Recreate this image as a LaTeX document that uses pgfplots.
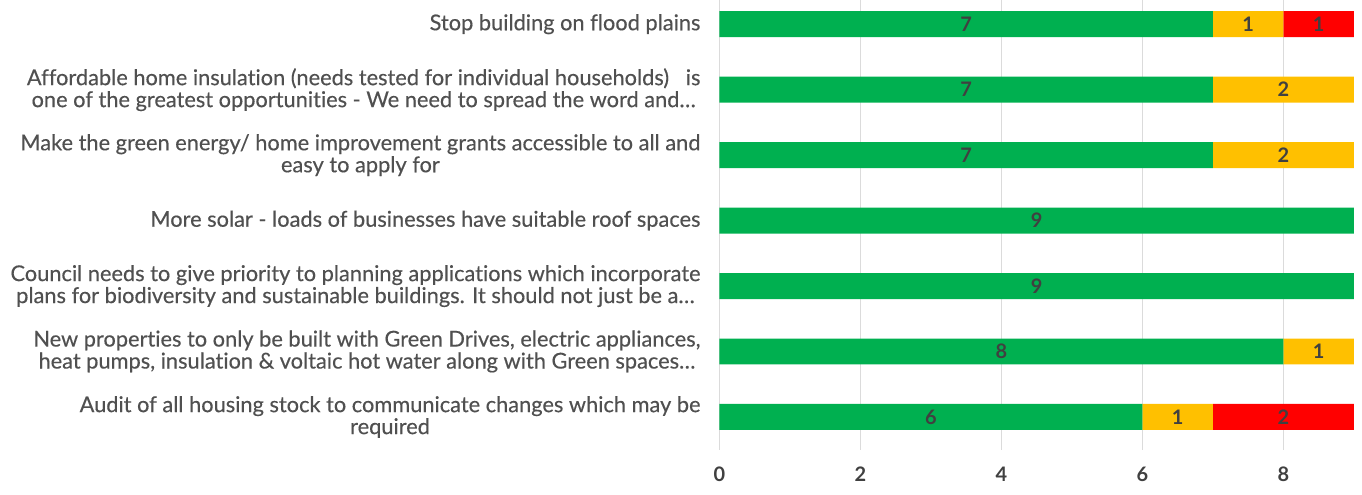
\documentclass[border=0pt]{standalone}
\usepackage{fontspec}
\setmainfont{Lato}[Ligatures=NoCommon]
\newfontfamily\labelfont{Lato}[Ligatures=NoCommon, FakeBold=0.35]
\usepackage{pgfplots}
\pgfplotsset{compat=1.18}
\definecolor{cgreen}{RGB}{0,176,80}
\definecolor{camber}{RGB}{255,192,0}
\definecolor{cred}{RGB}{255,0,0}
\definecolor{ctext}{RGB}{80,80,80}
\definecolor{cnum}{RGB}{64,64,64}
\begin{document}
\begin{tikzpicture}
\useasboundingbox (-360pt,-22.5pt) rectangle (321.5pt,225pt);
\begin{axis}[
  at={(0,0)}, anchor=south west,
  scale only axis, width=317.5pt, height=225pt,
  xbar stacked, bar width=13pt,
  xmin=0, xmax=9, ymin=-0.5, ymax=6.37,
  axis line style={draw=none},
  tick style={draw=none},
  xtick={0,2,4,6,8},
  ytick={0,...,6},
  yticklabels={
    {Audit of all housing stock to communicate changes which may be\\required},
    {New properties to only be built with Green Drives, electric appliances,\\heat pumps, insulation \& voltaic hot water along with Green spaces\ldots},
    {Council needs to give priority to planning applications which incorporate\\plans for biodiversity and sustainable buildings. It should not just be a\ldots},
    {More solar - loads of businesses have suitable roof spaces},
    {Make the green energy/ home improvement grants accessible to all and\\easy to apply for},
    {Affordable home insulation (needs tested for individual households) \ \ is\\one of the greatest opportunities - We need to spread the word and\ldots},
    {Stop building on flood plains}
  },
  yticklabel style={font=\labelfont\fontsize{10.9}{11}\selectfont, text=ctext, align=center, xshift=-6pt},
  xticklabel style={font=\fontsize{10}{11}\selectfont\bfseries, text=cnum, yshift=-5pt},
  /pgf/number format/assume math mode=true,
  xmajorgrids, grid style={black!14, line width=0.5pt},
  point meta=rawx,
  nodes near coords={\pgfmathfloatifflags{\pgfplotspointmeta}{0}{}{\pgfmathprintnumber{\pgfplotspointmeta}}},
  every node near coord/.append style={anchor=center, font=\fontsize{10}{11}\selectfont\bfseries, text=cnum},
]
\addplot[fill=cgreen, draw=none] coordinates {(6,0) (8,1) (9,2) (9,3) (7,4) (7,5) (7,6)};
\addplot[fill=camber, draw=none] coordinates {(1,0) (1,1) (0,2) (0,3) (2,4) (2,5) (1,6)};
\addplot[fill=cred, draw=none] coordinates {(2,0) (0,1) (0,2) (0,3) (0,4) (0,5) (1,6)};
\end{axis}
\end{tikzpicture}
\end{document}
